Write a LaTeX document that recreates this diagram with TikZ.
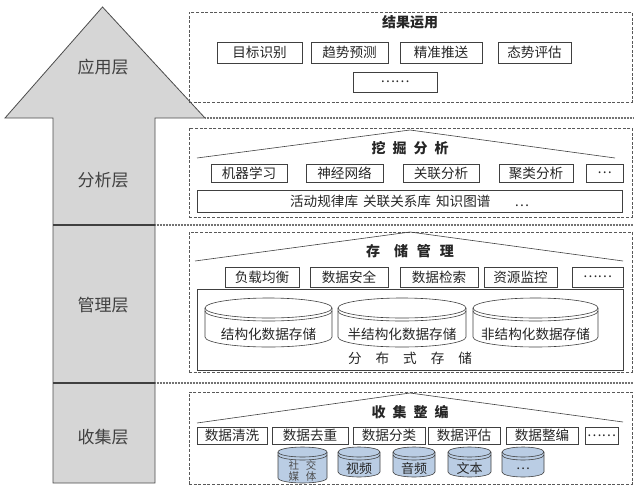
\documentclass[tikz,border=0pt]{standalone}
\usepackage{fontspec}
\setmainfont{Noto Sans CJK SC}
\usetikzlibrary{positioning, calc}
\definecolor{cylblue}{RGB}{186,205,228}
\tikzset{
  item/.style={draw=black!75, line width=0.6pt, inner sep=0pt, font=\fontsize{13.6}{13.6}\selectfont},
  panel/.style={draw=black!65, line width=0.6pt, dash pattern=on 3pt off 1.6pt, inner sep=0pt},
  title/.style={font=\fontsize{14}{14}\selectfont\bfseries, inner sep=0pt},
  layer/.style={font=\fontsize{17}{17}\selectfont, text=black!75, inner sep=0pt},
  roof/.style={draw=black!75, line width=0.6pt},
  cylline/.style={draw=black!75, line width=0.6pt},
  cyltext/.style={inner sep=0pt, font=\fontsize{13.6}{13.6}\selectfont},
  arrowbody/.style={fill=black!16, draw=black!70, line width=0.8pt},
  shaftline/.style={line width=1.5pt, black!75},
  sepline/.style={line width=1.6pt, black!55, dash pattern=on 1pt off 0.5pt}
}
% box from (x1,y1) to (x2,y2), image coordinates
\newcommand{\rbox}[7][item]{%
  \node[#1, minimum width={#5-#3}, minimum height={#6-#4}]
    (#2) at ({(#3+#5)/2},{(#4+#6)/2}) {#7};}
% cylinder: name, cx, top, half width, height, ry, fill, text
\newcommand{\cyl}[8]{%
  \filldraw[cylline, fill=#7] ({#2-#4},{#3+#6}) -- ({#2-#4},{#3+#5-#6})
    arc[start angle=180, end angle=360, x radius=#4pt, y radius=#6pt]
    -- ({#2+#4},{#3+#6})
    arc[start angle=0, end angle=180, x radius=#4pt, y radius=#6pt] -- cycle;
  \draw[cylline] ({#2-#4},{#3+#6})
    arc[start angle=180, end angle=360, x radius=#4pt, y radius=#6pt];
  \draw[cylline] ({#2-#4},{#3+#6+3})
    arc[start angle=180, end angle=360, x radius=#4pt, y radius=#6pt];
  \node[cyltext] (#1) at (#2,{(#3+2*#6+3+#3+#5)/2}) {#8};}
\begin{document}
\begin{tikzpicture}[x=1pt, y=-1pt, every node/.style={text=black!85}]
\useasboundingbox (0,0) rectangle (640,488);
% arrow
\filldraw[arrowbody] (5,118) -- (102.5,7) -- (205,118) -- (155,118)
  -- (155,483) -- (53,483) -- (53,118) -- cycle;
% layer separators
\draw[sepline] (205,118) -- (633,118);
\foreach \y in {225,383}{
  \draw[shaftline] (53,\y) -- (155,\y);
  \draw[sepline] (155,\y) -- (633,\y);}
% layer names
\node[layer] (app) at (103,67) {应用层};
\node[layer] (ana) at (103,180) {分析层};
\node[layer] (man) at (103,305) {管理层};
\node[layer] (col) at (103,437) {收集层};
% application
\rbox[panel]{usepanel}{189}{12}{632}{102}{}
\node[title] (usetitle) at (410,22) {结果运用};
\rbox{target}{217}{42}{302}{63}{目标识别}
\rbox{trend}{311}{42}{388}{63}{趋势预测}
\rbox{push}{400}{42}{482}{63}{精准推送}
\rbox{situ}{498}{42}{571}{63}{态势评估}
\rbox{usemore}{353}{72}{437}{92}{……}
% analysis
\rbox[panel]{anapanel}{189}{128}{632}{217}{}
\coordinate (anaroof) at (410,130);
\draw[roof] (197,158) -- (anaroof) -- (615,158);
\node[title] (anatitle) at (410,148) {挖\hspace{7pt}掘\hspace{7pt}分\hspace{7pt}析};
\rbox{ml}{211}{164}{287}{182}{机器学习}
\rbox{nn}{306}{164}{383}{182}{神经网络}
\rbox{assoc}{403}{164}{479}{182}{关联分析}
\rbox{clust}{499}{164}{573}{182}{聚类分析}
\rbox{anamore}{586}{164}{623}{182}{…}
\rbox{kb}{197}{190}{622}{212}{活动规律库\hspace{5pt}关联关系库\hspace{5pt}知识图谱\hspace{24pt}…}
% management
\rbox[panel]{manpanel}{189}{232}{632}{372}{}
\coordinate (manroof) at (410,232);
\draw[roof] (195,261) -- (manroof) -- (623,261);
\node[title] (mantitle) at (410,251) {存\hspace{14pt}储\hspace{9pt}管\hspace{9pt}理};
\rbox{load}{225}{267}{299}{287}{负载均衡}
\rbox{safe}{310}{267}{388}{287}{数据安全}
\rbox{search}{400}{267}{478}{287}{数据检索}
\rbox{monitor}{484}{267}{557}{287}{资源监控}
\rbox{manmore}{572}{267}{623}{287}{……}
\rbox{dist}{197}{289}{623}{370}{}
\cyl{struct}{268.5}{298}{63.5}{49}{10}{white}{结构化数据存储}
\cyl{semi}{402}{298}{64}{49}{10}{white}{半结构化数据存储}
\cyl{unstruct}{535.5}{298}{62.5}{49}{10}{white}{非结构化数据存储}
\node[cyltext] (distlabel) at (410,358)
  {分\hspace{14pt}布\hspace{14pt}式\hspace{14pt}存\hspace{14pt}储};
% collection
\rbox[panel]{colpanel}{189}{392}{632}{484}{}
\coordinate (colroof) at (410,393);
\draw[roof] (197,423) -- (colroof) -- (623,422);
\node[title] (coltitle) at (410,412) {收\hspace{7pt}集\hspace{7pt}整\hspace{7pt}编};
\rbox{clean}{197}{427}{267}{444}{数据清洗}
\rbox{dedup}{272}{427}{348}{444}{数据去重}
\rbox{classify}{353}{427}{425}{444}{数据分类}
\rbox{assess}{428}{427}{500}{444}{数据评估}
\rbox{compile}{506}{427}{578}{444}{数据整编}
\rbox{colmore}{585}{427}{618}{444}{……}
\cyl{social}{302.5}{447}{24.5}{36}{5}{cylblue}{}
\node[cyltext, font=\fontsize{10.5}{11}\selectfont, align=center, text=black!70]
  (socialtext) at (302.5,471) {社\hspace{7pt}交\\媒\hspace{7pt}体};
\cyl{video}{359}{447}{21}{30}{5}{cylblue}{\fontsize{13}{13}\selectfont 视频}
\cyl{audio}{414}{447}{21}{30}{5}{cylblue}{\fontsize{13}{13}\selectfont 音频}
\cyl{text}{469.5}{447}{21.5}{30}{5}{cylblue}{\fontsize{13}{13}\selectfont 文本}
\cyl{srcmore}{523}{447}{21}{30}{5}{cylblue}{\fontsize{13}{13}\selectfont …}
\end{tikzpicture}
\end{document}
